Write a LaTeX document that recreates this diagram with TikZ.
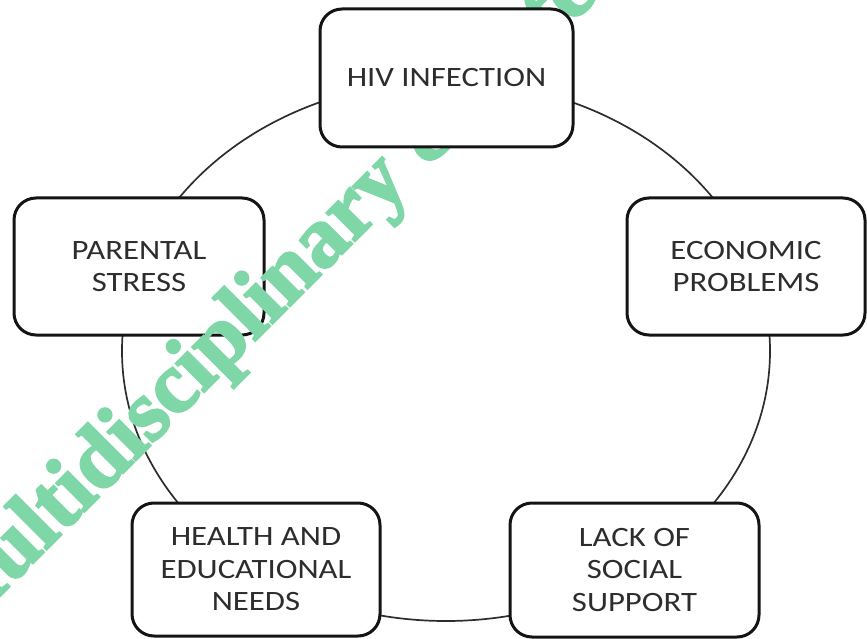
\documentclass[tikz,border=0pt]{standalone}
\usepackage{fontspec}
\setmainfont{Carlito}[FakeStretch=1.17]
\newfontfamily\wmfont{Liberation Serif}[BoldFeatures={FakeBold=2.5}]
\definecolor{wmgreen}{RGB}{127,214,166}
\definecolor{txtgray}{RGB}{45,45,45}
\definecolor{ringgray}{RGB}{45,45,45}
\begin{document}
\begin{tikzpicture}[x=1pt,y=-1pt,
  box/.style={draw=black!92, line width=3pt, rounded corners=22pt, fill=white,
    text=txtgray, align=center, font=\fontsize{28}{32.5}\selectfont, inner sep=0pt},
  ring/.style={draw=ringgray, line width=1.7pt},
  watermark/.style={anchor=base west, rotate=45, text=wmgreen, inner sep=0pt,
    font=\wmfont\bfseries\fontsize{87}{90}\selectfont}]
\useasboundingbox (0,0) rectangle (867,639);
\clip (0,0) rectangle (867,639);
\coordinate (ctr) at (446,351);
\draw[ring] (ctr) ellipse [x radius=324, y radius=270];
\node[box, minimum width=250pt, minimum height=137pt] (par) at (139,266.5) {PARENTAL\\STRESS};
\node[box, minimum width=238pt, minimum height=137pt] (eco) at (746,266.5) {ECONOMIC\\PROBLEMS};
\node[box, minimum width=248pt, minimum height=133pt] (hea) at (256,569.5) {HEALTH AND\\EDUCATIONAL\\NEEDS};
\node[box, minimum width=249pt, minimum height=134pt] (lac) at (634.5,570) {LACK OF\\SOCIAL\\SUPPORT};
\node[watermark] (wm) at (-47,643) {Multidisciplinary \& Inte};
\node[box, minimum width=253pt, minimum height=138pt] (hiv) at (446.5,78) {HIV INFECTION};
\end{tikzpicture}
\end{document}
